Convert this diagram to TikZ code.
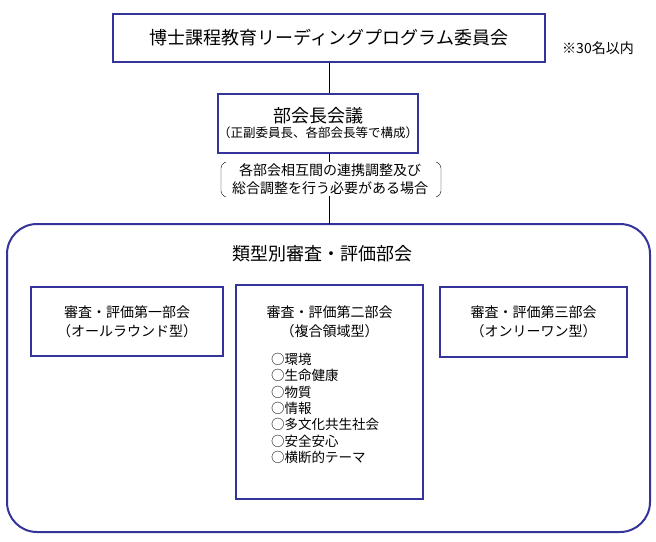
\documentclass[tikz,border=0pt]{standalone}
\usepackage{fontspec}
\setmainfont{Noto Sans CJK JP}
\definecolor{bl}{HTML}{34349A}
\begin{document}
\begin{tikzpicture}[x=1pt,y=-1pt,
  bx/.style={draw=bl,line width=2pt,fill=white,align=center,inner sep=0pt},
  sb/.style={draw=bl,line width=1.6pt,fill=white,align=center,inner sep=0pt}]
\useasboundingbox (0,0) rectangle (656,541);
\draw[bl,line width=2pt,rounded corners=30pt] (7,224) rectangle (650,532);
\coordinate (bt) at (329,224);
\node[bx,minimum width=432pt,minimum height=48pt,font=\fontsize{18}{20}\selectfont] (top) at (329,38) {博士課程教育リーディングプログラム委員会};
\node[font=\fontsize{14}{15}\selectfont] (note) at (598,48) {※30名以内};
\node[bx,minimum width=198pt,minimum height=59pt] (mid) at (318,123) {{\fontsize{18}{20}\selectfont 部会長会議}\\[2pt]{\fontsize{12.5}{15}\selectfont （正副委員長、各部会長等で構成）}};
\draw[thin] (top.south -| bt) -- (mid.north -| bt);
\draw[thin] (mid.south -| bt) -- (bt);
\node[fill=white,align=center,inner sep=1pt,font=\fontsize{14}{18}\selectfont] (cond) at (330,179) {各部会相互間の連携調整及び\\総合調整を行う必要がある場合};
\draw[thin,rounded corners=4pt] (226,162) -- (221,164) -- (221,195) -- (226,197);
\draw[thin,rounded corners=4pt] (436,162) -- (441,164) -- (441,195) -- (436,197);
\node[font=\fontsize{18}{20}\selectfont] (cat) at (322,254) {類型別審査・評価部会};
\node[sb,minimum width=192pt,minimum height=69pt,font=\fontsize{14}{19}\selectfont] (s1) at (127,321.5) {審査・評価第一部会\\（オールラウンド型）};
\node[sb,minimum width=187pt,minimum height=214pt] (s2) at (329.5,392) {};
\node[align=center,font=\fontsize{14}{19}\selectfont] (s2t) at (329.5,322) {審査・評価第二部会\\（複合領域型）};
\node[align=left,anchor=north west,font=\fontsize{13.5}{16.3}\selectfont,inner sep=0pt] (lst) at (271,353) {○環境\\○生命健康\\○物質\\○情報\\○多文化共生社会\\○安全安心\\○横断的テーマ};
\node[sb,minimum width=187pt,minimum height=70pt,font=\fontsize{14}{19}\selectfont] (s3) at (533.5,322) {審査・評価第三部会\\（オンリーワン型）};
\end{tikzpicture}
\end{document}
